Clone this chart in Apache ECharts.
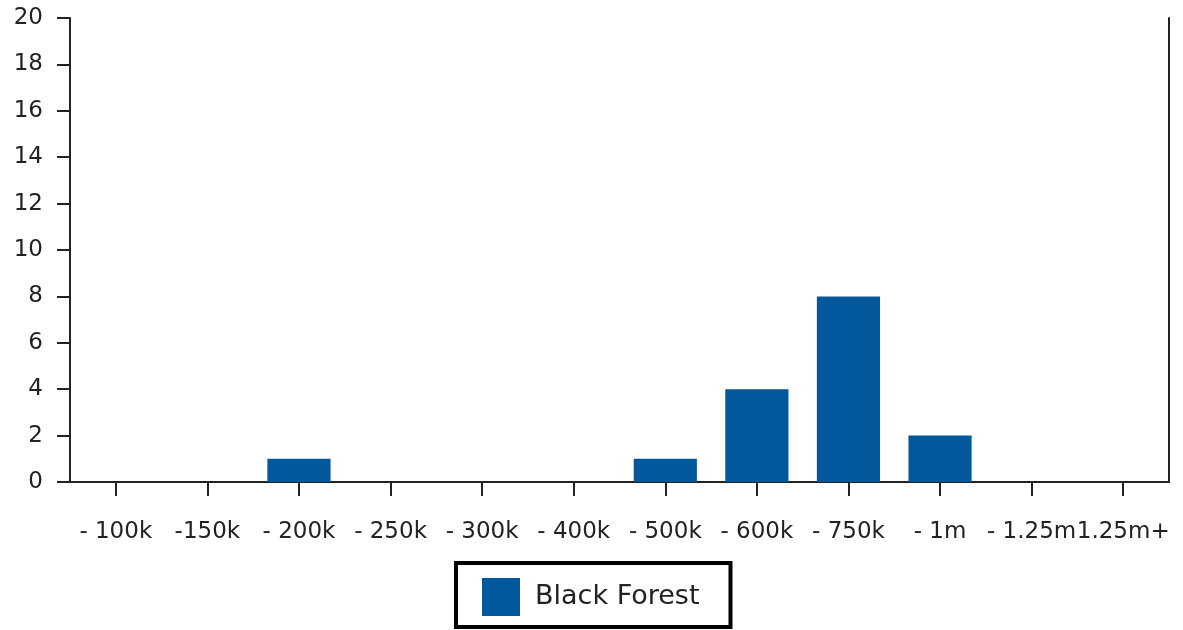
<!DOCTYPE html>
<html>
<head>
<meta charset="utf-8">
<script src="https://cdn.jsdelivr.net/npm/echarts@6/dist/echarts.min.js"></script>
<style>html,body{margin:0;padding:0;background:#fff;}#c{width:1183px;height:630px;}</style>
</head>
<body>
<div id="c"></div>
<script>
const categories = ['- 100k', '-150k', '- 200k', '- 250k', '- 300k', '- 400k', '- 500k', '- 600k', '- 750k', '- 1m', '- 1.25m', '1.25m+'];
const seriesName = 'Black Forest';
const values = [0, 0, 1, 0, 0, 0, 1, 4, 8, 2, 0, 0];
const yTicks = {min: 0, max: 20, interval: 2};

const chart = echarts.init(document.getElementById('c'), null, {renderer: 'canvas'});
const font = 'DejaVu Sans';
chart.setOption({
  animation: false,
  backgroundColor: '#fff',
  grid: {left: 70, right: 14, top: 18, bottom: 148, containLabel: false},
  legend: {
    data: [seriesName],
    left: 456, top: 563,
    orient: 'horizontal',
    borderColor: '#000', borderWidth: 4, borderRadius: 0,
    padding: [15, 31, 11, 26],
    itemWidth: 38, itemHeight: 38, itemGap: 10,
    icon: 'rect',
    textStyle: {fontFamily: font, fontSize: 27, color: '#222', padding: [0, 0, 0, 10]}
  },
  xAxis: {
    type: 'category',
    data: categories,
    boundaryGap: true,
    axisLine: {show: true, lineStyle: {color: '#222', width: 2}},
    axisTick: {show: true, alignWithLabel: true, length: 14, lineStyle: {color: '#222', width: 2}},
    axisLabel: {fontFamily: font, fontSize: 23, color: '#222', margin: 39, interval: 0},
    splitLine: {show: false}
  },
  yAxis: [{
    type: 'value',
    min: yTicks.min, max: yTicks.max, interval: yTicks.interval,
    axisLine: {show: true, lineStyle: {color: '#222', width: 2}},
    axisTick: {show: true, length: 13, lineStyle: {color: '#222', width: 2}},
    axisLabel: {fontFamily: font, fontSize: 23, color: '#222', margin: 27},
    splitLine: {show: false}
  }, {
    type: 'value',
    position: 'right',
    min: yTicks.min, max: yTicks.max, interval: yTicks.interval,
    axisLine: {show: true, lineStyle: {color: '#222', width: 2}},
    axisTick: {show: false},
    axisLabel: {show: false},
    splitLine: {show: false}
  }],
  series: [{
    name: seriesName,
    type: 'bar',
    data: values,
    barWidth: '69%',
    itemStyle: {
      color: '#03589c'
    }
  }]
});
</script>
</body>
</html>
